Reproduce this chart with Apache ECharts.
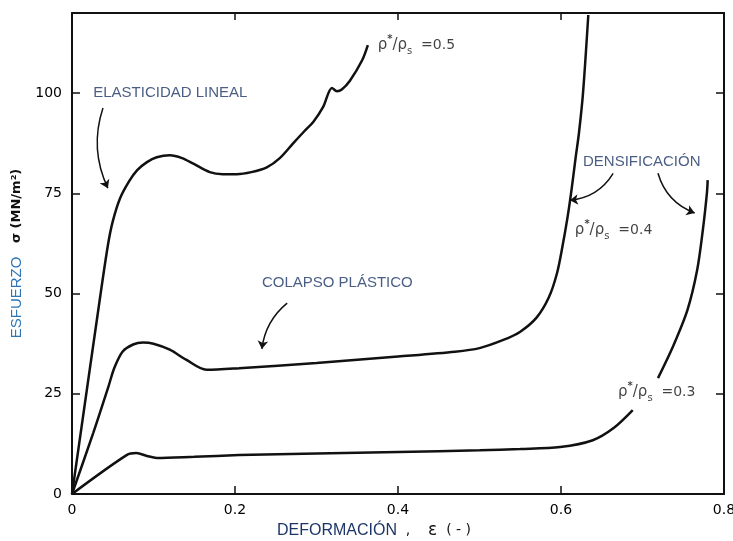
<!DOCTYPE html>
<html>
<head>
<meta charset="utf-8">
<script src="https://cdn.jsdelivr.net/npm/echarts@6/dist/echarts.min.js"></script>
<style>
  html, body { margin: 0; padding: 0; background: #fff; }
  #chart { width: 733px; height: 541px; }
</style>
</head>
<body>
<div id="chart"></div>
<script>
// Axis ticks
const xTicks = [0, 0.2, 0.4, 0.6, 0.8];
const yTicks = [0, 25, 50, 75, 100];

// rho*/rho_s = 0.5
const strain05 = [0, 0.034, 0.044, 0.050, 0.059, 0.070, 0.080, 0.092, 0.104, 0.120, 0.135, 0.149, 0.169, 0.185, 0.202, 0.220, 0.239, 0.255, 0.271, 0.285, 0.296, 0.308, 0.319, 0.325, 0.331, 0.341, 0.356, 0.363];
const stress05 = [0, 48.4, 62.0, 68.0, 73.8, 78.0, 80.8, 82.8, 84.0, 84.5, 83.8, 82.4, 80.3, 79.8, 79.8, 80.3, 81.5, 83.8, 87.4, 90.5, 92.8, 96.5, 101.3, 100.5, 100.9, 103.1, 108.2, 112.0];

// rho*/rho_s = 0.4
const strain04 = [0, 0.026, 0.045, 0.052, 0.062, 0.075, 0.087, 0.100, 0.120, 0.140, 0.165, 0.205, 0.300, 0.400, 0.470, 0.500, 0.530, 0.550, 0.570, 0.585, 0.595, 0.602, 0.608, 0.613, 0.618, 0.622, 0.627, 0.6335];
const stress04 = [0, 15.2, 27.0, 31.5, 35.5, 37.3, 37.8, 37.5, 36.0, 33.5, 31.0, 31.4, 32.7, 34.3, 35.5, 36.4, 38.5, 40.5, 44.0, 49.0, 55.0, 62.0, 69.0, 76.0, 84.0, 90.0, 100.0, 119.5];

// rho*/rho_s = 0.3 (null = gap left for the label)
const strain03 = [0, 0.067, 0.079, 0.092, 0.104, 0.150, 0.205, 0.300, 0.400, 0.500, 0.550, 0.599, 0.639, 0.665, 0.688, null, 0.719, 0.737, 0.755, 0.767, 0.774, 0.779, 0.780];
const stress03 = [0, 9.7, 10.2, 9.5, 9.0, 9.3, 9.7, 10.1, 10.5, 10.9, 11.2, 11.7, 13.4, 16.5, 20.9, null, 28.9, 36.6, 45.8, 55.8, 65.8, 75.0, 78.3];

// Annotations
const noteTexts = ['ELASTICIDAD LINEAL', 'COLAPSO PLÁSTICO', 'DENSIFICACIÓN'];
const noteX = [0.026, 0.233, 0.627];
const noteY = [100.2, 52.6, 82.8];

const densityValues = ['0.5', '0.4', '0.3'];
const densityX = [0.375, 0.617, 0.670];
const densityY = [112, 65.8, 25.4];

const arrowFrom = [[0.038, 96.3], [0.264, 47.6], [0.664, 80.0], [0.719, 80.0]];
const arrowTo   = [[0.044, 76.3], [0.233, 36.2], [0.611, 73.3], [0.764, 70.1]];
const arrowBend = [-0.2, -0.2, 0.25, -0.25];

function pairs(xs, ys) {
  return xs.map((x, i) => (x === null || ys[i] === null) ? ['-', '-'] : [x, ys[i]]);
}

const chart = echarts.init(document.getElementById('chart'), null, { renderer: 'canvas' });

const frameLine = { show: true, onZero: false, lineStyle: { color: '#111', width: 2 } };
const tickFont = { fontFamily: 'DejaVu Sans', fontSize: 14, color: '#000' };

const curveStyle = { color: '#111', width: 2.5 };
function curve(xs, ys) {
  return {
    type: 'line', data: pairs(xs, ys), showSymbol: false, symbol: 'none',
    smooth: 0.3, connectNulls: false, lineStyle: curveStyle, z: 3, silent: true
  };
}

const navy = '#1c3566';

const option = {
  animation: false,
  backgroundColor: '#fff',
  grid: { left: 72, right: 9, top: 13, bottom: 47, containLabel: false, outerBoundsMode: 'none' },
  xAxis: [
    {
      type: 'value', min: xTicks[0], max: xTicks[xTicks.length - 1], interval: 0.2,
      position: 'bottom',
      axisLine: frameLine,
      axisTick: { show: true, inside: true, length: 8, lineStyle: { color: '#111', width: 1.5 } },
      axisLabel: Object.assign({ margin: 9, formatter: v => v === 0 ? '0' : v.toFixed(1) }, tickFont),
      splitLine: { show: false },
      name: '{b|DEFORMACIÓN}{c|  ,    }{e|ε}{c|  ( - )}',
      nameLocation: 'middle', nameGap: 24,
      nameTextStyle: {
        padding: [0, 48, 0, 0],
        rich: {
          b: { fontFamily: 'Liberation Sans', fontSize: 16, color: navy },
          c: { fontFamily: 'DejaVu Sans', fontSize: 14, color: '#111' },
          e: { fontFamily: 'DejaVu Sans', fontSize: 17, color: '#111' }
        }
      }
    },
    {
      type: 'value', min: xTicks[0], max: xTicks[xTicks.length - 1], interval: 0.2,
      position: 'top',
      axisLine: frameLine,
      axisTick: { show: true, inside: true, length: 7, lineStyle: { color: '#111', width: 1.5 } },
      axisLabel: { show: false },
      splitLine: { show: false }
    }
  ],
  yAxis: [
    {
      type: 'value', min: 0, max: 120, interval: 25,
      position: 'left',
      axisLine: frameLine,
      axisTick: { show: true, inside: true, length: 8, lineStyle: { color: '#111', width: 1.5 } },
      axisLabel: Object.assign({ margin: 10, showMaxLabel: false,
        formatter: v => (yTicks.indexOf(v) >= 0 ? String(v) : '') }, tickFont),
      splitLine: { show: false },
      name: '{e|ESFUERZO}{s|   σ (MN/m²)}',
      nameLocation: 'middle', nameGap: 40,
      nameTextStyle: {
        rich: {
          e: { fontFamily: 'Liberation Sans', fontSize: 15, color: '#2e75b6' },
          s: { fontFamily: 'DejaVu Sans', fontSize: 13, fontWeight: 'bold', color: '#111' }
        }
      }
    },
    {
      type: 'value', min: 0, max: 120, interval: 25,
      position: 'right',
      axisLine: frameLine,
      axisTick: { show: true, inside: true, length: 8, lineStyle: { color: '#111', width: 1.5 } },
      axisLabel: { show: false },
      splitLine: { show: false }
    }
  ],
  series: [
    curve(strain05, stress05),
    curve(strain04, stress04),
    curve(strain03, stress03),
    {
      type: 'scatter', symbolSize: 0, silent: true, z: 5,
      data: noteTexts.map((t, i) => ({ value: [noteX[i], noteY[i]], name: t })),
      label: {
        show: true, position: 'right', distance: 0,
        formatter: p => p.name,
        fontFamily: 'Liberation Sans', fontSize: 15, color: navy
      }
    },
    {
      type: 'scatter', symbolSize: 0, silent: true, z: 5,
      data: densityValues.map((t, i) => ({ value: [densityX[i], densityY[i]], name: t })),
      label: {
        show: true, position: 'right', distance: 0,
        formatter: p => '{r|ρ}{sup|*}{r|/ρ}{sub|s}{v|  =' + p.name + '}',
        rich: {
          r: { fontFamily: 'DejaVu Sans', fontSize: 15, color: '#111', lineHeight: 22, verticalAlign: 'middle' },
          sup: { fontFamily: 'DejaVu Sans', fontSize: 10, fontWeight: 'bold', color: '#111', lineHeight: 22, verticalAlign: 'top' },
          sub: { fontFamily: 'DejaVu Sans', fontSize: 10, color: '#111', lineHeight: 22, verticalAlign: 'bottom' },
          v: { fontFamily: 'DejaVu Sans', fontSize: 14, color: '#111', lineHeight: 22, verticalAlign: 'middle' }
        }
      }
    },
    {
      type: 'lines', coordinateSystem: 'cartesian2d', silent: true, z: 4,
      symbol: ['none', 'arrow'], symbolSize: 8,
      data: arrowFrom.map((f, i) => ({
        coords: [f, arrowTo[i]],
        lineStyle: { curveness: arrowBend[i] }
      })),
      lineStyle: { color: '#111', width: 1.5, opacity: 1 }
    }
  ]
};

chart.setOption(option);
</script>
</body>
</html>
